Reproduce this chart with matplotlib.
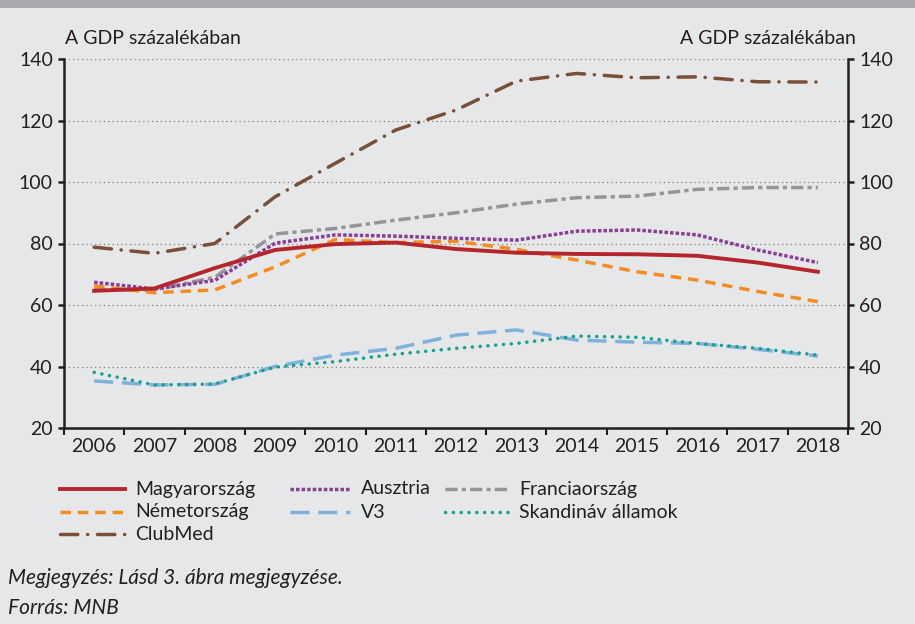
import matplotlib
matplotlib.use("Agg")
import matplotlib.pyplot as plt
from matplotlib.lines import Line2D
from matplotlib.patches import Rectangle

years = [2006, 2007, 2008, 2009, 2010, 2011, 2012, 2013, 2014, 2015, 2016, 2017, 2018]
magyarorszag = [64.6, 65.4, 72.0, 77.9, 79.8, 80.3, 78.2, 77.0, 76.6, 76.5, 76.0, 73.8, 70.8]
ausztria = [67.4, 65.2, 68.0, 80.1, 82.8, 82.4, 81.7, 81.1, 84.0, 84.4, 82.8, 77.9, 73.8]
franciaorszag = [65.0, 64.9, 69.0, 83.1, 84.9, 87.6, 90.0, 92.8, 94.9, 95.4, 97.6, 98.2, 98.2]
nemetorszag = [66.2, 64.0, 64.9, 72.4, 81.3, 80.3, 80.7, 78.1, 74.6, 70.8, 68.1, 64.4, 61.1]
v3 = [35.3, 34.0, 34.2, 40.0, 43.7, 45.9, 50.2, 51.9, 48.6, 47.9, 47.5, 45.6, 43.4]
skandinav = [38.1, 34.0, 34.3, 39.8, 41.6, 44.0, 45.9, 47.5, 49.9, 49.5, 47.5, 45.9, 43.7]
clubmed = [78.8, 76.8, 80.0, 95.2, 106.1, 116.9, 123.4, 132.8, 135.3, 133.9, 134.2, 132.6, 132.5]
yticks = [20, 40, 60, 80, 100, 120, 140]
axis_title = "A GDP százalékában"

FONT = ["Lato", "DejaVu Sans"]
plt.rcParams["font.family"] = FONT

W, H = 915, 624
fig = plt.figure(figsize=(W / 100, H / 100), dpi=100)
bg = "#E6E7E8"
fig.patch.set_facecolor(bg)
fig.add_artist(Rectangle((0, 1 - 8 / H), 1, 8 / H, transform=fig.transFigure,
                         facecolor="#A7A9AC", edgecolor="none"))

ax = fig.add_axes([64 / W, 1 - 428 / H, (848 - 64) / W, (428 - 59) / H])
ax.set_facecolor(bg)

series = [
    ("Magyarország", magyarorszag, dict(color="#B5262C", lw=2.8, ls="-", zorder=6)),
    ("Ausztria", ausztria, dict(color="#8B3D96", lw=2.5, ls=(0, (1.0, 0.6)), zorder=5)),
    ("Franciaország", franciaorszag, dict(color="#939598", lw=2.5, ls=(0, (3.5, 1.2, 1.2, 1.2)), zorder=3)),
    ("Németország", nemetorszag, dict(color="#F68B1F", lw=2.5, ls=(0, (3.0, 2.0)), zorder=4)),
    ("V3", v3, dict(color="#7EB2DD", lw=2.5, ls=(0, (5.5, 2.5)), zorder=3)),
    ("Skandináv államok", skandinav, dict(color="#16A08E", lw=2.5, ls=(0, (0.05, 2.2)),
                                           dash_capstyle="round", zorder=4)),
    ("ClubMed", clubmed, dict(color="#7A4F35", lw=2.5, ls=(0, (5.0, 2.8, 0.05, 2.8)),
                              dash_capstyle="round", zorder=3)),
]

for name, vals, st in series:
    ax.plot(years, vals, **st)

ax.set_xlim(2005.5, 2018.5)
ax.set_ylim(20, 140)
ax.set_yticks(yticks)
ax.yaxis.grid(True, ls=(0, (1, 2.5)), color="#7F7F7F", lw=0.9)
ax.set_axisbelow(True)

ax.set_xticks([y + 0.5 for y in [2005] + years])
ax.set_xticklabels([])
ax.set_xticks(years, minor=True)
ax.set_xticklabels([str(y) for y in years], minor=True)
ax.tick_params(axis="x", which="major", direction="out", length=5, width=1.5, color="#231F20")
ax.tick_params(axis="x", which="minor", length=0, pad=7, labelsize=14, labelcolor="#231F20")
ax.tick_params(axis="y", direction="out", length=4, width=1.8, color="#231F20",
               labelsize=14, labelcolor="#231F20", left=True, right=True,
               labelleft=True, labelright=True, pad=4)

for s in ["left", "right", "bottom"]:
    ax.spines[s].set_color("#231F20")
    ax.spines[s].set_linewidth(1.8)
ax.spines["top"].set_visible(False)

fig.text(65 / W, 1 - 38 / H, axis_title, ha="left", va="center", fontsize=14, color="#231F20")
fig.text(856 / W, 1 - 38 / H, axis_title, ha="right", va="center", fontsize=14, color="#231F20")

# legend (manual layout)
rows_y = [489, 512, 534]
legend_pos = [
    (0, 0, 60, 125, 135), (1, 0, 290, 350, 361), (2, 0, 445, 510, 519),
    (3, 1, 60, 125, 135), (4, 1, 290, 350, 361), (5, 1, 445, 510, 519),
    (6, 2, 60, 125, 135),
]
for idx, row, x0, x1, xt in legend_pos:
    name, vals, st = series[idx]
    y = 1 - rows_y[row] / H
    kw = {k: v for k, v in st.items() if k != "zorder"}
    fig.add_artist(Line2D([x0 / W, x1 / W], [y, y], transform=fig.transFigure, **kw))
    fig.text(xt / W, y, name, ha="left", va="center", fontsize=14, color="#231F20")

fig.text(8 / W, 1 - 578 / H, "Megjegyzés: Lásd 3. ábra megjegyzése.", ha="left", va="center",
         fontsize=15, style="italic", color="#231F20")
fig.text(8 / W, 1 - 608 / H, "Forrás: MNB", ha="left", va="center",
         fontsize=15, style="italic", color="#231F20")

fig.savefig("out.png", dpi=100, facecolor=bg)
